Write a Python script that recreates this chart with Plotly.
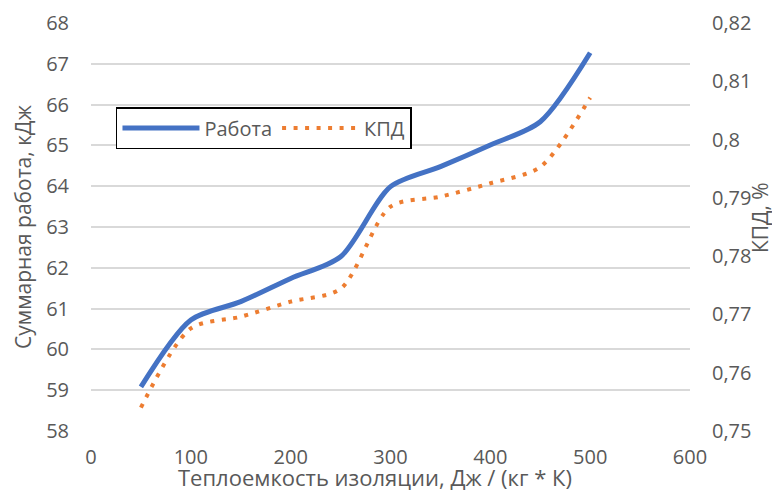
import plotly.graph_objects as go

x_vals = [50, 100, 150, 200, 250, 300, 350, 400, 450, 500]
work = [59.08, 60.72, 61.17, 61.74, 62.27, 63.99, 64.48, 65.01, 65.58, 67.27]
kpd = [0.7540, 0.7676, 0.7696, 0.7722, 0.7744, 0.7885, 0.7902, 0.7925, 0.7953, 0.8072]

y2_ticks = [0.75, 0.76, 0.77, 0.78, 0.79, 0.80, 0.81, 0.82]
y2_labels = ["0,75", "0,76", "0,77", "0,78", "0,79", "0,8", "0,81", "0,82"]

x_title = "Теплоемкость изоляции, Дж / (кг * К)"
y_title = "Суммарная работа, кДж"
y2_title = "КПД, %"

FONT = "Open Sans"
GREY = "#595959"
TICK = 20
TITLE = 21

fig = go.Figure()
fig.add_trace(go.Scatter(x=x_vals, y=work, name="Работа", mode="lines",
                         line=dict(color="#4472C4", width=5, shape="spline", smoothing=0.8)))
fig.add_trace(go.Scatter(x=x_vals, y=kpd, name="КПД", mode="lines", yaxis="y2",
                         line=dict(color="#ED7D31", width=4, dash="4px,7.5px", shape="spline", smoothing=0.8)))

fig.update_layout(
    width=772, height=484,
    margin=dict(l=83, r=90, t=15, b=61),
    paper_bgcolor="white", plot_bgcolor="white",
    font=dict(family=FONT, size=TICK, color=GREY),
    separators=", ",
    xaxis=dict(range=[0, 600], dtick=100, tick0=0, showgrid=False, zeroline=False,
               showline=False, ticks="", ticklabelstandoff=12, automargin=False,
               tickfont=dict(size=TICK, color=GREY)),
    yaxis=dict(range=[58, 68], dtick=1, tick0=58, showgrid=True, gridcolor="#D9D9D9", gridwidth=1.5,
               zeroline=False, showline=False, ticks="", ticklabelstandoff=21, automargin=False,
               tickfont=dict(size=TICK, color=GREY)),
    yaxis2=dict(range=[0.75, 0.82], overlaying="y", side="right", showgrid=False, zeroline=False,
                tickvals=y2_ticks, ticktext=y2_labels, ticks="", ticklabelstandoff=21, automargin=False,
                tickfont=dict(size=TICK, color=GREY)),
    legend=dict(orientation="h", x=0.0417, y=0.794, xanchor="left", yanchor="top",
                bordercolor="#000000", borderwidth=1.5, bgcolor="white",
                font=dict(size=TICK, color=GREY), itemwidth=77, tracegroupgap=0),
    showlegend=True,
    annotations=[
        dict(text=x_title, xref="paper", yref="paper", x=0.474, y=-0.1125,
             xanchor="center", yanchor="middle", showarrow=False,
             font=dict(size=22, color=GREY)),
        dict(text=y_title, xref="paper", yref="paper", x=-0.1135, y=0.5, textangle=-90,
             xanchor="center", yanchor="middle", showarrow=False,
             font=dict(size=TITLE, color=GREY)),
        dict(text=y2_title, xref="paper", yref="paper", x=1.1169, y=0.522, textangle=-90,
             xanchor="center", yanchor="middle", showarrow=False,
             font=dict(size=TITLE, color=GREY)),
    ],
)

fig.write_html("out.html")
